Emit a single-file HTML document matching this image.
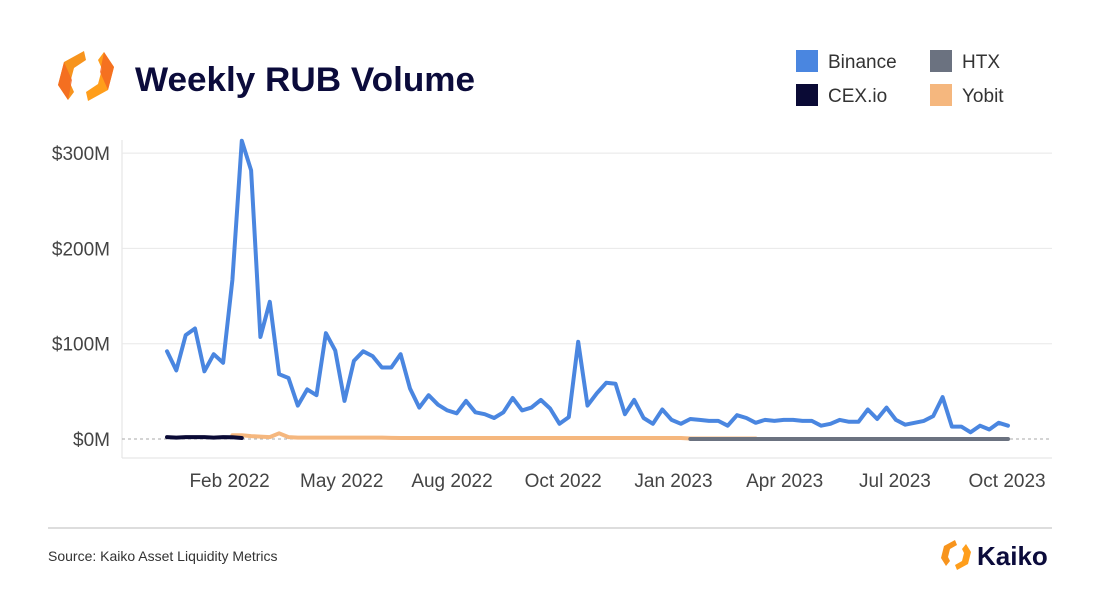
<!DOCTYPE html>
<html><head><meta charset="utf-8"><style>
body{margin:0;background:#fff;width:1100px;height:600px;overflow:hidden;font-family:"Liberation Sans",Arial,sans-serif}
</style></head><body>
<svg id="c" width="1100" height="600" xmlns="http://www.w3.org/2000/svg">
<g>
<path d="M84 51 L64 62 L58 85 L68 100 L74 92 L70 83 L74 68 L86 60 Z" fill="#f7941d"/>
<path d="M88 101 L108 90 L114 67 L104 52 L98 60 L102 69 L98 84 L86 92 Z" fill="#ff9e1b"/>
<path d="M64 62 L58 85 L68 100 L72 80 Z" fill="#f26522" opacity="0.8"/>
<path d="M108 90 L114 67 L104 52 L100 72 Z" fill="#f26522" opacity="0.8"/>
</g>
<text x="135" y="91" font-size="34" font-weight="bold" fill="#0b0b3b" textLength="340" lengthAdjust="spacingAndGlyphs">Weekly RUB Volume</text>
<g>
<g><rect x="796" y="50" width="22" height="22" fill="#4a86e0"/><text x="828" y="68" font-size="19" fill="#333">Binance</text></g>
<g><rect x="930" y="50" width="22" height="22" fill="#6b7280"/><text x="962" y="68" font-size="19" fill="#333">HTX</text></g>
<g><rect x="796" y="84" width="22" height="22" fill="#0a0a35"/><text x="828" y="102" font-size="19" fill="#333">CEX.io</text></g>
<g><rect x="930" y="84" width="22" height="22" fill="#f5b77e"/><text x="962" y="102" font-size="19" fill="#333">Yobit</text></g>
</g>
<line x1="122" y1="140" x2="122" y2="458" stroke="#e2e2e2"/>
<line x1="122" y1="458" x2="1052" y2="458" stroke="#e2e2e2"/>
<g id="grid"></g><g id="series"></g><g id="axes"></g>
<line x1="48" y1="528" x2="1052" y2="528" stroke="#bbb"/>
<text x="48" y="561" font-size="14" fill="#333">Source: Kaiko Asset Liquidity Metrics</text>
<g>
<path d="M955 540 L944 546 L941 558 L946 566 L950 561 L948 557 L950 549 L957 545 Z" fill="#f7941d"/>
<path d="M957 570 L968 564 L971 552 L966 544 L962 549 L964 553 L962 561 L955 565 Z" fill="#ff9e1b"/>
<text x="977" y="565" font-size="26" font-weight="bold" fill="#0b0b3b">Kaiko</text>
</g>
</svg>
<script>
const binance=[92,72,109,116,71,89,80,167,313,282,107,144,68,64,35,52,46,111,93,40,82,92,87,75,75,89,53,33,46,36,30,27,40,28,26,22,28,43,30,33,41,32,16,23,102,35,48,59,58,26,41,22,16,31,20,16,21,20,19,19,14,25,22,17,20,19,20,20,19,19,14,16,20,18,18,31,21,33,20,15,17,19,24,44,13,13,7,14,10,17,14];
const cexStart=0;
const cex=[2,1.5,2,2,2,1.5,2,1.8,1];
const yobitStart=7;
const yobit=[4,4,3,2.5,2,6,2,1.5,1.5,1.5,1.5,1.5,1.5,1.5,1.5,1.5,1.5,1.2,1,1,1,1,1,1,1,1,1,1,1,1,1,1,1,1,1,1,1,1,1,1,1,1,1,1,1,1,1,1,1,0.5,0.5,0.5,0.5,0.5,0.5,0.5,0.5];
const htxStart=56;
const htx=new Array(35).fill(0);
const yTicks=[0,100,200,300];
const yTickLabels=["$0M","$100M","$200M","$300M"];
const xTickPos=[6.7,18.7,30.5,42.4,54.2,66.1,77.9,89.9];
const xTickLabels=["Feb 2022","May 2022","Aug 2022","Oct 2022","Jan 2023","Apr 2023","Jul 2023","Oct 2023"];
const NS="http://www.w3.org/2000/svg";
const X=i=>167+i*(841/90);
const Y=v=>439-v*0.953;
function mk(t,a,p){const e=document.createElementNS(NS,t);for(const k in a)e.setAttribute(k,a[k]);document.getElementById(p).appendChild(e);return e;}
yTicks.forEach((v,i)=>{
 const l=mk('line',{x1:122,x2:1052,y1:Y(v),y2:Y(v),stroke:v===0?'#aaa':'#e8e8e8','stroke-dasharray':v===0?'3,3':'none'},'grid');
 
 
 const t=mk('text',{x:110,y:Y(v)+7,'text-anchor':'end','font-size':19,fill:'#444'},'axes');
 t.textContent=yTickLabels[i];
 
 
});
xTickPos.forEach((p,i)=>{
 const t=mk('text',{x:X(p),y:487,'text-anchor':'middle','font-size':19,fill:'#444'},'axes');
 t.textContent=xTickLabels[i];
 
 
});
function line(vals,start,color,name){
 const d=vals.map((v,i)=>(i?'L':'M')+X(start+i).toFixed(1)+' '+Y(v).toFixed(1)).join(' ');
 const p=mk('path',{d:d,fill:'none',stroke:color,'stroke-width':4,'stroke-linejoin':'round','stroke-linecap':'round'},'series');
 
 
}
line(yobit,yobitStart,'#f5b77e','yobit-line');
line(htx,htxStart,'#6b7280','htx-line');
line(cex,cexStart,'#0a0a35','cexio-line');
line(binance,0,'#4a86e0','binance-line');
</script>
</body></html>
